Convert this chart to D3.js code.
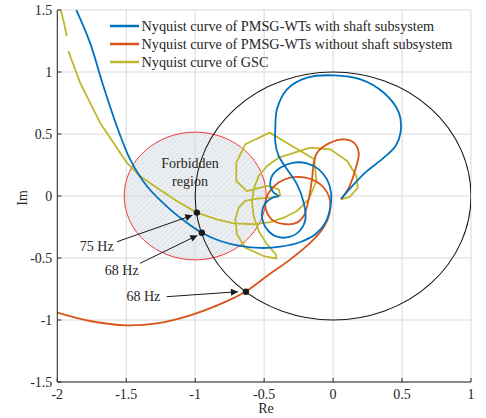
<!DOCTYPE html>
<html><head><meta charset="utf-8">
<script src="https://cdn.jsdelivr.net/npm/d3@7"></script>
<style>body{margin:0;background:#fff}svg{display:block}text{font-family:"Liberation Serif","Times New Roman",serif;fill:#262626}</style>
</head><body><svg id="c" width="486" height="418"></svg>
<script>
const xTicks=[-2,-1.5,-1,-0.5,0,0.5,1];
const yTicks=[-1.5,-1,-0.5,0,0.5,1,1.5];
const seriesNames=["Nyquist curve of PMSG-WTs with shaft subsystem","Nyquist curve of PMSG-WTs without shaft subsystem","Nyquist curve of GSC"];
const blueRe=[-1.864,-1.763,-1.666,-1.569,-1.472,-1.351,-1.182,-1.061,-0.952,-0.818,-0.673,-0.528,-0.383,-0.237,-0.128,-0.056,-0.019,-0.015,-0.044,-0.104,-0.189,-0.286,-0.383,-0.443,-0.455,-0.431,-0.395,-0.443,-0.492,-0.516,-0.479,-0.407,-0.310,-0.237,-0.201,-0.213,-0.262,-0.334,-0.395,-0.419,-0.419,-0.407,-0.334,-0.189,0.005,0.199,0.368,0.477,0.489,0.453,0.368,0.247,0.150,0.058];
const blueIm=[1.505,1.237,0.887,0.565,0.296,0.081,-0.108,-0.215,-0.296,-0.363,-0.403,-0.419,-0.409,-0.371,-0.309,-0.215,-0.081,0.027,0.134,0.215,0.263,0.269,0.228,0.161,0.081,0.027,0.000,-0.016,-0.059,-0.161,-0.269,-0.328,-0.328,-0.274,-0.188,-0.054,0.094,0.215,0.323,0.430,0.538,0.699,0.860,0.954,0.973,0.941,0.833,0.672,0.511,0.403,0.309,0.202,0.094,-0.022];
const redRe=[-2.000,-1.763,-1.496,-1.278,-1.036,-0.794,-0.637,-0.479,-0.310,-0.165,-0.087,-0.039,-0.019,-0.031,-0.092,-0.201,-0.310,-0.395,-0.467,-0.492,-0.479,-0.431,-0.334,-0.262,-0.213,-0.177,-0.153,-0.140,-0.116,-0.019,0.077,0.150,0.186,0.162,0.114,0.058];
const redIm=[-0.941,-1.008,-1.043,-1.027,-0.962,-0.860,-0.772,-0.645,-0.511,-0.376,-0.282,-0.188,-0.094,0.000,0.094,0.148,0.148,0.108,0.027,-0.054,-0.134,-0.202,-0.228,-0.215,-0.161,-0.027,0.134,0.269,0.349,0.430,0.457,0.430,0.349,0.215,0.067,-0.027];
const gscReA=[-1.976,-1.952,-1.932];
const gscImA=[1.505,1.398,1.290];
const gscReB=[-1.920,-1.835,-1.690,-1.593,-1.496,-1.400,-1.278,-1.133,-0.988,-0.843,-0.722,-0.576,-0.455,-0.358,-0.262,-0.177,-0.121,-0.136,-0.298,-0.460,-0.637,-0.702,-0.702,-0.625,-0.576,-0.479,-0.395,-0.383,-0.455,-0.552,-0.637,-0.685,-0.709,-0.697,-0.637,-0.504,-0.412,-0.416,-0.479,-0.540,-0.576,-0.588,-0.576,-0.540,-0.479,-0.395,-0.262,-0.165,-0.019,0.102,0.169,0.179,0.121,0.058];
const gscImB=[1.169,0.914,0.591,0.430,0.269,0.161,0.067,-0.040,-0.134,-0.188,-0.220,-0.228,-0.210,-0.175,-0.121,-0.027,0.121,0.296,0.403,0.511,0.417,0.269,0.121,0.040,0.054,0.081,0.054,0.005,-0.013,-0.022,-0.040,-0.094,-0.188,-0.309,-0.417,-0.484,-0.505,-0.470,-0.390,-0.282,-0.161,-0.054,0.054,0.161,0.242,0.309,0.355,0.390,0.376,0.282,0.161,0.067,-0.008,-0.027];
const markRe=[-0.988,-0.952,-0.632];
const markIm=[-0.134,-0.296,-0.772];
const markLabels=["75 Hz","68 Hz","68 Hz"];
const labelRe=[-1.714,-1.533,-1.376];
const labelIm=[-0.409,-0.597,-0.812];
const arrowFromRe=[-1.567,-1.40,-1.207];
const arrowFromIm=[-0.369,-0.543,-0.812];
const forbiddenCenter=[-1,0], forbiddenRadius=0.515;

const svg=d3.select("#c");
const L=57.3,R=471,T=10,B=382;
const x=d3.scaleLinear().domain([-2,1]).range([L,R]);
const y=d3.scaleLinear().domain([-1.5,1.5]).range([B,T]);
const defs=svg.append("defs");
defs.append("clipPath").attr("id","clip").append("rect").attr("x",L).attr("y",T).attr("width",R-L).attr("height",B-T);
const pat=defs.append("pattern").attr("id","hatch").attr("patternUnits","userSpaceOnUse").attr("width",3.6).attr("height",3.6).attr("patternTransform","rotate(45)");
pat.append("rect").attr("width",3.6).attr("height",3.6).attr("fill","#eceff2");
pat.append("line").attr("x1",0).attr("y1",0).attr("x2",0).attr("y2",3.6).attr("stroke","#d5d9de").attr("stroke-width",1.1);
defs.append("marker").attr("id","arr").attr("viewBox","0 0 10 10").attr("refX",10).attr("refY",5).attr("markerWidth",9).attr("markerHeight",7).attr("markerUnits","userSpaceOnUse").attr("orient","auto")
 .append("path").attr("d","M0,0L10,5L0,10Z").attr("fill","#1a1a1a");

svg.append("ellipse").attr("cx",x(forbiddenCenter[0])).attr("cy",y(forbiddenCenter[1]))
 .attr("rx",x(forbiddenRadius)-x(0)).attr("ry",y(0)-y(forbiddenRadius)).attr("fill","url(#hatch)");
const g=svg.append("g");
g.selectAll(".gx").data(xTicks).join("line").attr("x1",d=>x(d)).attr("x2",d=>x(d)).attr("y1",T).attr("y2",B).attr("stroke","#d9d9d9").attr("stroke-width",1);
g.selectAll(".gy").data(yTicks).join("line").attr("y1",d=>y(d)).attr("y2",d=>y(d)).attr("x1",L).attr("x2",R).attr("stroke","#d9d9d9").attr("stroke-width",1);
svg.append("ellipse").attr("cx",x(forbiddenCenter[0])).attr("cy",y(forbiddenCenter[1]))
 .attr("rx",x(forbiddenRadius)-x(0)).attr("ry",y(0)-y(forbiddenRadius)).attr("fill","none").attr("stroke","#ee3b3b").attr("stroke-width",1);
const pc=svg.append("g").attr("clip-path","url(#clip)");
pc.append("ellipse").attr("cx",x(0)).attr("cy",y(0)).attr("rx",x(1)-x(0)).attr("ry",y(0)-y(1)).attr("fill","none").attr("stroke","#1a1a1a").attr("stroke-width",1.1);
const zip=(a,b)=>a.map((v,i)=>[v,b[i]]);
const smooth=d3.line().x(d=>x(d[0])).y(d=>y(d[1])).curve(d3.curveCatmullRom.alpha(0.5));
const lin=d3.line().x(d=>x(d[0])).y(d=>y(d[1]));
const cols=["#0072BD","#D95319","#BDB82C"];
pc.append("path").attr("d",lin(zip(gscReA,gscImA))).attr("fill","none").attr("stroke",cols[2]).attr("stroke-width",1.8);
pc.append("path").attr("d",lin(zip(gscReB,gscImB))).attr("fill","none").attr("stroke",cols[2]).attr("stroke-width",1.8).attr("stroke-linejoin","round");
pc.append("path").attr("d",smooth(zip(redRe,redIm))).attr("fill","none").attr("stroke",cols[1]).attr("stroke-width",1.8);
pc.append("path").attr("d",smooth(zip(blueRe,blueIm))).attr("fill","none").attr("stroke",cols[0]).attr("stroke-width",1.8);
svg.selectAll(".mk").data(markRe).join("circle").attr("cx",d=>x(d)).attr("cy",(d,i)=>y(markIm[i])).attr("r",3.2).attr("fill","#1a1a1a");
svg.selectAll(".ar").data(markRe).join("line").attr("x1",(d,i)=>x(arrowFromRe[i])).attr("y1",(d,i)=>y(arrowFromIm[i]))
 .attr("x2",(d,i)=>x(d)-(i==2?8:4.5)).attr("y2",(d,i)=>y(markIm[i])+(i==2?0:2.7)).attr("stroke","#1a1a1a").attr("stroke-width",1).attr("marker-end","url(#arr)");
svg.selectAll(".ml").data(markLabels).join("text").attr("x",(d,i)=>x(labelRe[i])).attr("y",(d,i)=>y(labelIm[i])).attr("text-anchor","middle").attr("dominant-baseline","central").attr("font-size",14).text(d=>d);
svg.append("text").attr("x",190).attr("y",163).attr("text-anchor","middle").attr("dominant-baseline","central").attr("font-size",14).text("Forbidden");
svg.append("text").attr("x",190).attr("y",181).attr("text-anchor","middle").attr("dominant-baseline","central").attr("font-size",14).text("region");
svg.append("line").attr("x1",L).attr("x2",L).attr("y1",T).attr("y2",B).attr("stroke","#262626");
svg.append("line").attr("x1",L).attr("x2",R).attr("y1",B).attr("y2",B).attr("stroke","#262626");
svg.selectAll(".tx").data(xTicks).join("line").attr("x1",d=>x(d)).attr("x2",d=>x(d)).attr("y1",B).attr("y2",B-4).attr("stroke","#262626");
svg.selectAll(".ty").data(yTicks).join("line").attr("y1",d=>y(d)).attr("y2",d=>y(d)).attr("x1",L).attr("x2",L+4).attr("stroke","#262626");
svg.selectAll(".lx").data(xTicks).join("text").attr("x",d=>x(d)).attr("y",B+12).attr("text-anchor","middle").attr("dominant-baseline","central").attr("font-size",14).text(d=>d);
svg.selectAll(".ly").data(yTicks).join("text").attr("x",L-5).attr("y",d=>y(d)).attr("text-anchor","end").attr("dominant-baseline","central").attr("font-size",14).text(d=>d);
svg.append("text").attr("x",266).attr("y",408).attr("text-anchor","middle").attr("dominant-baseline","central").attr("font-size",14).text("Re");
svg.append("text").attr("transform","translate(22,198) rotate(-90)").attr("text-anchor","middle").attr("dominant-baseline","central").attr("font-size",14).text("Im");
const lg=svg.append("g");
seriesNames.forEach((n,i)=>{
 const yy=26+i*18;
 lg.append("line").attr("x1",110).attr("x2",139).attr("y1",yy).attr("y2",yy).attr("stroke",cols[i]).attr("stroke-width",2.5);
 lg.append("text").attr("x",141.5).attr("y",yy).attr("dominant-baseline","central").attr("font-size",14.25).text(n);
});
</script></body></html>
